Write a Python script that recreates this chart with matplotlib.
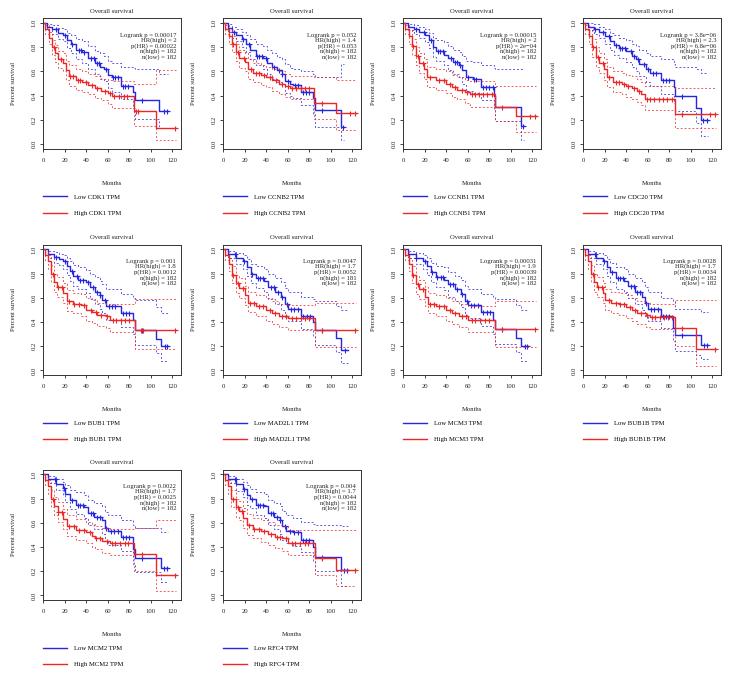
import bisect
import matplotlib
matplotlib.use("Agg")
import matplotlib.pyplot as plt

# fonte serifada, parecida com a do GEPIA
plt.rcParams['font.family'] = ['Liberation Serif', 'DejaVu Serif']

# -----------------------------------------------------------------------------
# Dados: (mês, sobrevida, IC inferior, IC superior)
# -----------------------------------------------------------------------------
GENES = ["CDK1", "CCNB2", "CCNB1", "CDC20", "BUB1",
         "MAD2L1", "MCM3", "BUB1B", "MCM2", "RFC4"]

LOGRANK_P = ["0.00017", "0.052", "0.00015", "3.8e\u221206", "0.001",
             "0.0047", "0.00031", "0.0028", "0.0022", "0.004"]
HR_HIGH = ["2", "1.4", "2", "2.3", "1.8", "1.7", "1.9", "1.7", "1.7", "1.7"]
P_HR = ["0.00022", "0.053", "2e\u221204", "6.8e\u221206", "0.0012",
        "0.0052", "0.00039", "0.0034", "0.0025", "0.0044"]
N_HIGH = [182, 182, 182, 182, 182, 181, 182, 182, 182, 182]
N_LOW = [182, 182, 182, 182, 182, 182, 182, 182, 182, 182]

CDK1_LOW = [(0, 1, 1, 1), (3, .97, .94, .99), (8, .95, .91, .98), (14, .92, .87, .96),
            (18, .90, .85, .95), (22, .86, .79, .92), (26, .83, .75, .90), (30, .78, .70, .87),
            (36, .76, .67, .85), (42, .71, .62, .81), (48, .67, .58, .77), (53, .64, .54, .75),
            (56, .62, .52, .73), (60, .57, .46, .69), (64, .55, .43, .67), (72, .48, .37, .64),
            (83, .43, .30, .63), (85, .36, .21, .62), (108, .27, .13, .58), (116, .27, .13, .58)]
CDK1_HIGH = [(0, 1, 1, 1), (2, .95, .91, .98), (5, .88, .83, .93), (8, .80, .74, .86),
             (11, .75, .68, .82), (14, .70, .63, .77), (18, .67, .60, .75), (21, .61, .53, .69),
             (24, .56, .48, .65), (30, .53, .45, .62), (36, .51, .43, .60), (42, .49, .41, .58),
             (48, .46, .38, .56), (54, .44, .36, .54), (60, .42, .33, .53), (64, .40, .30, .52),
             (84, .27, .15, .50), (105, .13, .03, .61), (123, .13, .03, .61)]
CDK1_LOW_CENS = [12, 20, 27, 33, 35, 38, 44, 47, 50, 52, 58, 65, 67, 69, 74, 76, 79, 92, 112, 115]
CDK1_HIGH_CENS = [10, 16, 25, 28, 32, 34, 40, 45, 50, 57, 62, 66, 70, 75, 78, 86, 88, 122]

CCNB2_LOW = [(0, 1, 1, 1), (4, .96, .93, .99), (8, .93, .88, .97), (12, .90, .85, .95),
             (17, .87, .80, .93), (21, .83, .76, .90), (25, .78, .70, .87), (30, .73, .65, .83),
             (37, .71, .62, .81), (41, .67, .58, .78), (45, .64, .54, .75), (50, .61, .51, .72),
             (55, .58, .48, .70), (57, .52, .42, .66), (62, .50, .40, .63), (65, .49, .38, .62),
             (72, .43, .32, .60), (83, .38, .25, .58), (85, .28, .14, .55), (109, .14, .03, .66),
             (112, .14, .03, .66)]
CCNB2_HIGH = [(0, 1, 1, 1), (2, .95, .91, .98), (5, .89, .83, .94), (8, .83, .76, .89),
              (12, .76, .69, .83), (15, .71, .63, .78), (20, .68, .60, .75), (23, .62, .54, .70),
              (28, .59, .51, .67), (35, .57, .49, .65), (40, .55, .47, .64), (45, .53, .44, .62),
              (52, .50, .41, .60), (57, .48, .39, .58), (62, .46, .37, .56), (84, .34, .21, .55),
              (105, .26, .12, .53), (123, .26, .12, .53)]
CCNB2_LOW_CENS = [10, 18, 24, 31, 33, 36, 40, 47, 52, 55, 60, 67, 69, 74, 77, 80, 92, 111]
CCNB2_HIGH_CENS = [9, 14, 19, 26, 30, 33, 38, 43, 49, 55, 60, 64, 68, 72, 76, 80, 92, 118, 122]

CCNB1_LOW = [(0, 1, 1, 1), (4, .97, .94, .99), (10, .95, .91, .98), (15, .93, .88, .97),
             (20, .90, .84, .95), (24, .86, .79, .92), (28, .80, .72, .88), (30, .77, .69, .86),
             (38, .74, .65, .84), (42, .71, .61, .81), (46, .68, .58, .78), (52, .65, .55, .76),
             (55, .61, .50, .73), (58, .55, .44, .69), (65, .54, .42, .68), (72, .47, .36, .65),
             (84, .40, .28, .63), (85, .31, .19, .62), (109, .15, .03, .62), (112, .15, .03, .62)]
CCNB1_HIGH = [(0, 1, 1, 1), (2, .95, .91, .98), (5, .89, .83, .94), (8, .81, .74, .87),
              (12, .73, .65, .80), (15, .67, .59, .75), (19, .62, .54, .70), (22, .55, .47, .64),
              (30, .53, .45, .62), (40, .50, .42, .60), (45, .47, .39, .57), (50, .45, .37, .55),
              (57, .43, .34, .53), (62, .41, .31, .52), (85, .31, .19, .48), (105, .23, .10, .48),
              (123, .23, .10, .48)]
CCNB1_LOW_CENS = [12, 19, 26, 32, 34, 37, 44, 48, 50, 53, 60, 66, 68, 74, 77, 80, 83, 111]
CCNB1_HIGH_CENS = [9, 14, 18, 25, 33, 38, 43, 48, 55, 59, 64, 67, 70, 74, 78, 82, 92, 118, 122]

CDC20_LOW = [(0, 1, 1, 1), (4, .97, .94, 1.0), (10, .95, .91, .99), (15, .93, .88, .97),
             (20, .89, .83, .95), (25, .85, .78, .92), (29, .82, .74, .90), (33, .79, .71, .88),
             (40, .77, .68, .86), (45, .73, .64, .83), (49, .70, .60, .81), (52, .66, .56, .78),
             (58, .62, .51, .75), (62, .59, .48, .73), (72, .53, .41, .70), (84, .47, .34, .66),
             (85, .40, .27, .64), (105, .30, .17, .62), (109, .20, .07, .59), (116, .20, .07, .59)]
CDC20_HIGH = [(0, 1, 1, 1), (2, .95, .91, .98), (5, .89, .83, .94), (8, .80, .72, .87),
              (12, .72, .64, .80), (15, .67, .59, .75), (19, .62, .53, .70), (22, .55, .47, .64),
              (28, .51, .43, .60), (36, .50, .41, .59), (40, .48, .39, .57), (45, .46, .37, .56),
              (50, .44, .35, .54), (54, .41, .32, .51), (57, .37, .28, .48), (85, .25, .13, .46),
              (123, .25, .13, .46)]
CDC20_LOW_CENS = [11, 18, 24, 30, 34, 36, 39, 44, 47, 51, 56, 60, 65, 68, 74, 77, 80, 92, 111, 115]
CDC20_HIGH_CENS = [9, 14, 18, 24, 30, 33, 38, 42, 47, 52, 59, 62, 66, 70, 74, 78, 82, 92, 118, 122]

BUB1_LOW = [(0, 1, 1, 1), (4, .96, .93, .99), (10, .94, .89, .98), (15, .92, .87, .96),
            (18, .90, .84, .95), (22, .86, .79, .93), (25, .82, .74, .90), (28, .78, .70, .87),
            (32, .75, .67, .85), (40, .73, .64, .83), (43, .69, .59, .80), (48, .65, .55, .77),
            (53, .62, .51, .74), (55, .58, .47, .71), (58, .53, .42, .67), (72, .47, .36, .63),
            (83, .42, .30, .60), (85, .33, .21, .58), (105, .26, .14, .52), (109, .20, .08, .47),
            (116, .20, .08, .47)]
BUB1_HIGH = [(0, 1, 1, 1), (2, .95, .91, .98), (4, .90, .84, .95), (7, .80, .73, .87),
             (10, .73, .65, .80), (13, .69, .61, .77), (18, .64, .56, .72), (22, .57, .49, .66),
             (28, .55, .47, .64), (35, .54, .45, .63), (40, .50, .41, .60), (45, .48, .39, .58),
             (50, .46, .37, .56), (58, .45, .35, .55), (62, .42, .32, .55), (85, .33, .18, .59),
             (123, .33, .18, .59)]
BUB1_LOW_CENS = [12, 20, 27, 31, 34, 37, 42, 46, 50, 53, 57, 61, 64, 67, 74, 77, 80, 92, 113, 115]
BUB1_HIGH_CENS = [9, 14, 17, 24, 29, 33, 38, 44, 49, 54, 59, 65, 68, 72, 76, 80, 91, 93, 122]

MAD2L1_LOW = [(0, 1, 1, 1), (4, .96, .93, .99), (12, .93, .88, .97), (18, .90, .84, .95),
              (22, .85, .78, .92), (26, .80, .72, .88), (30, .76, .68, .86), (38, .74, .65, .84),
              (42, .69, .59, .80), (48, .65, .55, .76), (54, .61, .50, .73), (57, .55, .44, .68),
              (60, .51, .41, .65), (72, .45, .34, .61), (83, .40, .28, .59), (85, .33, .21, .57),
              (105, .27, .15, .53), (109, .17, .06, .50), (116, .17, .06, .50)]
MAD2L1_HIGH = [(0, 1, 1, 1), (2, .95, .91, .98), (5, .88, .82, .93), (8, .79, .72, .86),
               (12, .72, .64, .79), (15, .68, .60, .76), (20, .62, .54, .70), (23, .56, .48, .65),
               (30, .53, .45, .62), (40, .50, .41, .60), (45, .47, .38, .57), (52, .45, .36, .55),
               (60, .43, .33, .54), (85, .33, .19, .56), (123, .33, .19, .56)]
MAD2L1_LOW_CENS = [11, 19, 27, 32, 34, 37, 44, 47, 51, 55, 59, 63, 66, 69, 74, 78, 81, 92, 113]
MAD2L1_HIGH_CENS = [9, 14, 18, 25, 29, 33, 37, 43, 48, 55, 58, 64, 68, 72, 76, 80, 92, 122]

MCM3_LOW = [(0, 1, 1, 1), (4, .96, .93, .99), (12, .93, .88, .97), (18, .90, .84, .95),
            (22, .86, .79, .93), (26, .81, .73, .89), (30, .77, .69, .86), (38, .75, .66, .85),
            (42, .71, .61, .81), (48, .67, .57, .78), (54, .63, .52, .75), (57, .57, .46, .70),
            (60, .54, .43, .67), (72, .48, .37, .63), (83, .42, .30, .61), (85, .34, .22, .59),
            (105, .27, .15, .54), (109, .20, .08, .50), (116, .20, .08, .50)]
MCM3_HIGH = [(0, 1, 1, 1), (2, .95, .91, .98), (5, .88, .82, .93), (8, .79, .72, .86),
             (12, .71, .63, .78), (15, .67, .59, .75), (20, .61, .53, .69), (23, .55, .47, .64),
             (30, .53, .45, .62), (40, .50, .41, .60), (45, .47, .38, .57), (52, .45, .36, .55),
             (60, .42, .32, .53), (85, .34, .19, .57), (123, .34, .19, .57)]
MCM3_LOW_CENS = [12, 20, 27, 31, 35, 37, 43, 46, 50, 55, 59, 63, 66, 69, 74, 78, 81, 92, 113, 115]
MCM3_HIGH_CENS = [9, 14, 18, 25, 29, 33, 38, 43, 48, 55, 58, 64, 67, 71, 76, 80, 92, 122]

BUB1B_LOW = [(0, 1, 1, 1), (4, .96, .93, .99), (12, .93, .88, .97), (18, .90, .84, .95),
             (22, .85, .78, .92), (25, .81, .73, .89), (30, .76, .67, .85), (38, .74, .65, .84),
             (42, .70, .60, .80), (48, .65, .55, .76), (55, .61, .50, .73), (57, .56, .45, .69),
             (60, .51, .41, .65), (72, .45, .35, .60), (83, .35, .24, .57), (85, .29, .16, .51),
             (105, .29, .13, .51), (109, .21, .09, .48), (116, .21, .09, .48)]
BUB1B_HIGH = [(0, 1, 1, 1), (2, .95, .91, .98), (4, .90, .84, .95), (7, .80, .73, .87),
              (10, .73, .65, .80), (13, .69, .61, .77), (18, .64, .56, .72), (20, .58, .50, .67),
              (26, .56, .47, .65), (33, .55, .46, .64), (40, .52, .43, .62), (45, .50, .41, .60),
              (50, .47, .38, .57), (58, .46, .36, .56), (62, .44, .34, .55), (85, .35, .20, .58),
              (105, .18, .04, .58), (123, .18, .04, .58)]
BUB1B_LOW_CENS = [11, 19, 27, 32, 34, 37, 44, 47, 50, 53, 58, 63, 66, 69, 74, 77, 80, 92, 112, 115]
BUB1B_HIGH_CENS = [9, 14, 17, 24, 30, 34, 38, 43, 48, 54, 59, 64, 67, 71, 75, 79, 82, 92, 122]

MCM2_LOW = [(0, 1, 1, 1), (4, .96, .93, .99), (12, .92, .87, .96), (18, .89, .83, .94),
            (20, .84, .77, .91), (25, .79, .71, .87), (30, .75, .67, .85), (38, .73, .64, .83),
            (42, .68, .58, .79), (47, .65, .55, .76), (55, .62, .51, .74), (57, .56, .45, .69),
            (60, .53, .42, .66), (72, .48, .37, .62), (83, .38, .26, .58), (85, .31, .19, .56),
            (109, .23, .11, .52), (116, .23, .11, .52)]
MCM2_HIGH = [(0, 1, 1, 1), (2, .95, .91, .98), (4, .90, .84, .95), (7, .80, .73, .87),
             (10, .74, .66, .81), (14, .69, .61, .77), (18, .63, .55, .71), (22, .57, .49, .66),
             (30, .54, .46, .63), (40, .52, .43, .61), (45, .49, .40, .59), (48, .47, .38, .57),
             (55, .45, .35, .56), (62, .43, .33, .55), (84, .34, .20, .56), (105, .17, .04, .62),
             (123, .17, .04, .62)]
MCM2_LOW_CENS = [11, 19, 27, 32, 34, 37, 44, 46, 50, 53, 58, 63, 66, 69, 74, 77, 80, 92, 112, 115]
MCM2_HIGH_CENS = [9, 14, 17, 24, 29, 33, 38, 43, 49, 53, 59, 64, 67, 71, 76, 79, 92, 122]

RFC4_LOW = [(0, 1, 1, 1), (4, .96, .93, .99), (12, .92, .86, .96), (18, .88, .81, .94),
            (22, .83, .75, .91), (25, .80, .72, .88), (30, .75, .66, .85), (38, .74, .64, .84),
            (42, .68, .58, .79), (47, .65, .55, .76), (53, .62, .51, .74), (55, .57, .46, .70),
            (58, .53, .43, .66), (65, .52, .41, .64), (72, .46, .36, .61), (83, .40, .28, .59),
            (85, .32, .20, .58), (109, .21, .08, .57), (116, .21, .08, .57)]
RFC4_HIGH = [(0, 1, 1, 1), (2, .95, .91, .98), (4, .90, .84, .95), (7, .80, .73, .87),
             (12, .73, .65, .80), (15, .70, .62, .78), (18, .64, .56, .72), (22, .58, .50, .67),
             (28, .55, .47, .64), (35, .53, .44, .62), (42, .51, .42, .61), (48, .48, .39, .58),
             (55, .47, .37, .57), (60, .43, .33, .54), (85, .31, .17, .54), (105, .21, .08, .54),
             (123, .21, .08, .54)]
RFC4_LOW_CENS = [11, 19, 27, 32, 34, 37, 44, 46, 50, 53, 57, 62, 66, 69, 74, 77, 80, 92, 112, 115]
RFC4_HIGH_CENS = [9, 14, 17, 24, 29, 33, 38, 44, 50, 53, 58, 64, 67, 71, 76, 79, 92, 122]

CURVAS = {
    "CDK1": (CDK1_LOW, CDK1_HIGH, CDK1_LOW_CENS, CDK1_HIGH_CENS),
    "CCNB2": (CCNB2_LOW, CCNB2_HIGH, CCNB2_LOW_CENS, CCNB2_HIGH_CENS),
    "CCNB1": (CCNB1_LOW, CCNB1_HIGH, CCNB1_LOW_CENS, CCNB1_HIGH_CENS),
    "CDC20": (CDC20_LOW, CDC20_HIGH, CDC20_LOW_CENS, CDC20_HIGH_CENS),
    "BUB1": (BUB1_LOW, BUB1_HIGH, BUB1_LOW_CENS, BUB1_HIGH_CENS),
    "MAD2L1": (MAD2L1_LOW, MAD2L1_HIGH, MAD2L1_LOW_CENS, MAD2L1_HIGH_CENS),
    "MCM3": (MCM3_LOW, MCM3_HIGH, MCM3_LOW_CENS, MCM3_HIGH_CENS),
    "BUB1B": (BUB1B_LOW, BUB1B_HIGH, BUB1B_LOW_CENS, BUB1B_HIGH_CENS),
    "MCM2": (MCM2_LOW, MCM2_HIGH, MCM2_LOW_CENS, MCM2_HIGH_CENS),
    "RFC4": (RFC4_LOW, RFC4_HIGH, RFC4_LOW_CENS, RFC4_HIGH_CENS),
}

AZUL = "#2626e0"
VERMELHO = "#ee2626"
FS = 4.8

W, H = 729, 677


def desenhar_curva(ax, linhas, censuras, cor):
    t = [l[0] for l in linhas]
    s = [l[1] for l in linhas]
    lo = [l[2] for l in linhas]
    hi = [l[3] for l in linhas]
    # intervalo de confiança (pontilhado, um pouco mais claro)
    ax.step(t, lo, where="post", color=cor, lw=0.7, ls=(0, (2, 2)), alpha=0.75)
    ax.step(t, hi, where="post", color=cor, lw=0.7, ls=(0, (2, 2)), alpha=0.75)
    linha, = ax.step(t, s, where="post", color=cor, lw=1.0)
    # marcas de censura em cima da curva
    ys = [s[bisect.bisect_right(t, c) - 1] for c in censuras]
    ax.plot(censuras, ys, "+", color=cor, ms=3.6, mew=0.8)
    return linha


fig = plt.figure(figsize=(W / 100, H / 100), dpi=100)

tops = [18.2, 244.5, 469.5]
larg, alt = 137.7, 130.7

for i, gene in enumerate(GENES):
    r, c = divmod(i, 4)
    esq = 43.3 + 180 * c
    ax = fig.add_axes([esq / W, 1 - (tops[r] + alt) / H, larg / W, alt / H])

    low, high, low_c, high_c = CURVAS[gene]
    l_low = desenhar_curva(ax, low, low_c, AZUL)
    l_high = desenhar_curva(ax, high, high_c, VERMELHO)

    ax.set_xlim(0, 128)
    ax.set_ylim(-0.04, 1.04)
    ax.set_xticks(range(0, 121, 20))
    ax.set_yticks([0, 0.2, 0.4, 0.6, 0.8, 1.0])
    ax.set_yticklabels(["0.0", "0.2", "0.4", "0.6", "0.8", "1.0"],
                       rotation=90, va="center")
    ax.tick_params(axis="both", direction="out", length=2.5, width=0.6,
                   labelsize=FS, colors="#222222")
    ax.tick_params(axis="x", pad=4)
    ax.tick_params(axis="y", pad=2.5)
    for sp in ax.spines.values():
        sp.set_linewidth(0.7)
        sp.set_color("#333333")

    ax.set_title("Overall survival", fontsize=FS, pad=4, color="#222222")
    ax.set_ylabel("Percent survival", fontsize=FS, color="#222222")
    ax.yaxis.set_label_coords(-0.2, 0.5)
    ax.set_xlabel("Months", fontsize=FS, color="#222222")
    ax.xaxis.set_label_coords(0.5, -0.246)

    txt = "\n".join([f"Logrank p = {LOGRANK_P[i]}",
                     f"HR(high) = {HR_HIGH[i]}",
                     f"p(HR) = {P_HR[i]}",
                     f"n(high) = {N_HIGH[i]}",
                     f"n(low) = {N_LOW[i]}"])
    ax.text(0.965, 0.89, txt, transform=ax.transAxes, ha="right", va="top",
            fontsize=FS, linespacing=0.95, color="#222222")

    ax.legend([l_low, l_high], [f"Low {gene} TPM", f"High {gene} TPM"],
              loc="upper left", bbox_to_anchor=(0.0, -0.345), frameon=False,
              fontsize=FS, handlelength=3.5, handletextpad=1.1,
              labelspacing=1.6, borderpad=0, borderaxespad=0)

fig.savefig("out.png", dpi=100)
